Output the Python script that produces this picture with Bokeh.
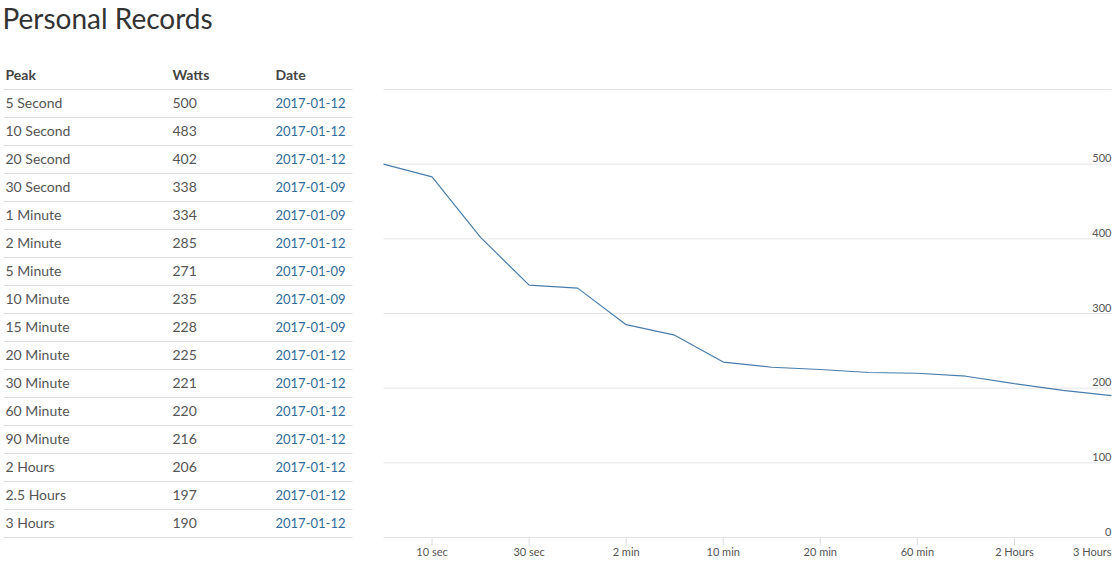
from bokeh.plotting import figure
from bokeh.models import Range1d
from bokeh.core.properties import value
from bokeh.embed import file_html
from bokeh.resources import INLINE

# ---------------- data ----------------
title_text = "Personal Records"
headers = ["Peak", "Watts", "Date"]
peaks = ["5 Second", "10 Second", "20 Second", "30 Second", "1 Minute", "2 Minute",
         "5 Minute", "10 Minute", "15 Minute", "20 Minute", "30 Minute", "60 Minute",
         "90 Minute", "2 Hours", "2.5 Hours", "3 Hours"]
watts = [500, 483, 402, 338, 334, 285, 271, 235, 228, 225, 221, 220, 216, 206, 197, 190]
dates = ["2017-01-12", "2017-01-12", "2017-01-12", "2017-01-09", "2017-01-09", "2017-01-12",
         "2017-01-09", "2017-01-09", "2017-01-09", "2017-01-12", "2017-01-12", "2017-01-12",
         "2017-01-12", "2017-01-12", "2017-01-12", "2017-01-12"]
x_tick_idx = [1, 3, 5, 7, 9, 11, 13, 15]
x_tick_labels = ["10 sec", "30 sec", "2 min", "10 min", "20 min", "60 min", "2 Hours", "3 Hours"]
y_ticks = [0, 100, 200, 300, 400, 500]
y_grid = [0, 100, 200, 300, 400, 500, 600]
y_max = 600

FONT = "Lato"
TXT = "#555555"
BLUE_TXT = "#2f6b98"
LINE = "#4a7dab"

W, H = 1119, 561

n = len(peaks)
rows = list(range(n))

# ---- main ranges: table (x in px, y in row units) ----
ROW_H = 28.0
FIRST_ROW = 103.0
p = figure(width=W, height=H, output_backend="svg", toolbar_location=None,
           x_range=Range1d(0, W),
           y_range=Range1d((H - FIRST_ROW) / ROW_H, -FIRST_ROW / ROW_H),
           min_border=0, x_axis_location=None, y_axis_location=None)
p.grid.visible = False
p.outline_line_color = None

# ---- chart ranges ----
CX0, CX1 = 383, 1111          # pixel span of first/last point
CY0, CY1 = 537, 89            # pixel of y=0 / y=y_max
sx = (CX1 - CX0) / (n - 1)
sy = (CY0 - CY1) / y_max
p.extra_x_ranges = {"cx": Range1d(-CX0 / sx, (n - 1) + (W - CX1) / sx)}
p.extra_y_ranges = {"cy": Range1d(-(H - CY0) / sy, y_max + CY1 / sy)}

# table separators
sep_y = [r - 0.5 for r in range(n + 1)]
p.segment(x0=3, x1=352, y0=sep_y, y1=sep_y, line_color="#dddddd", line_width=1)

common = dict(text_font=value(FONT), text_baseline="middle", y_offset=-1)
p.text(x=5, y=rows, text=peaks, text_color=TXT, text_font_size="14px", **common)
p.text(x=172, y=rows, text=[str(w) for w in watts], text_color=TXT,
       text_font_size="14px", **common)
p.text(x=275, y=rows, text=dates, text_color=BLUE_TXT, text_font_size="13px", **common)
p.text(x=[5, 172, 275], y=[-1, -1, -1], text=headers, text_color="#444444",
       text_font_style="bold", text_font_size="14px", **common)
p.text(x=[2], y=[(17 - FIRST_ROW) / ROW_H], text=[title_text], text_color="#333333",
       text_font=value(FONT), text_font_size="28px", text_baseline="middle")

# chart grid lines
p.segment(x0=0, x1=n - 1, y0=y_grid, y1=y_grid, line_color="#e6e6e6", line_width=1,
          x_range_name="cx", y_range_name="cy")
# x tick marks (8px long, below baseline)
tick_len = 8 / sy
p.segment(x0=x_tick_idx[:-1], x1=x_tick_idx[:-1], y0=0, y1=-tick_len,
          line_color="#dcdcdc", line_width=1, x_range_name="cx", y_range_name="cy")

# line
p.line(list(range(n)), watts, line_color=LINE, line_width=1.2,
       x_range_name="cx", y_range_name="cy")

# y labels (inside, right aligned, above grid line)
p.text(x=n - 1, y=y_ticks, text=[str(v) for v in y_ticks], text_align="right",
       text_baseline="alphabetic", y_offset=-6, text_color=TXT,
       text_font=value(FONT), text_font_size="11px", x_range_name="cx", y_range_name="cy")

# x labels
aligns = ["center"] * (len(x_tick_idx) - 1) + ["right"]
p.text(x=x_tick_idx, y=0, text=x_tick_labels, text_align=aligns,
       text_baseline="top", y_offset=7, text_color=TXT,
       text_font=value(FONT), text_font_size="11px", x_range_name="cx", y_range_name="cy")

open("out.html", "w").write(file_html(p, INLINE))
